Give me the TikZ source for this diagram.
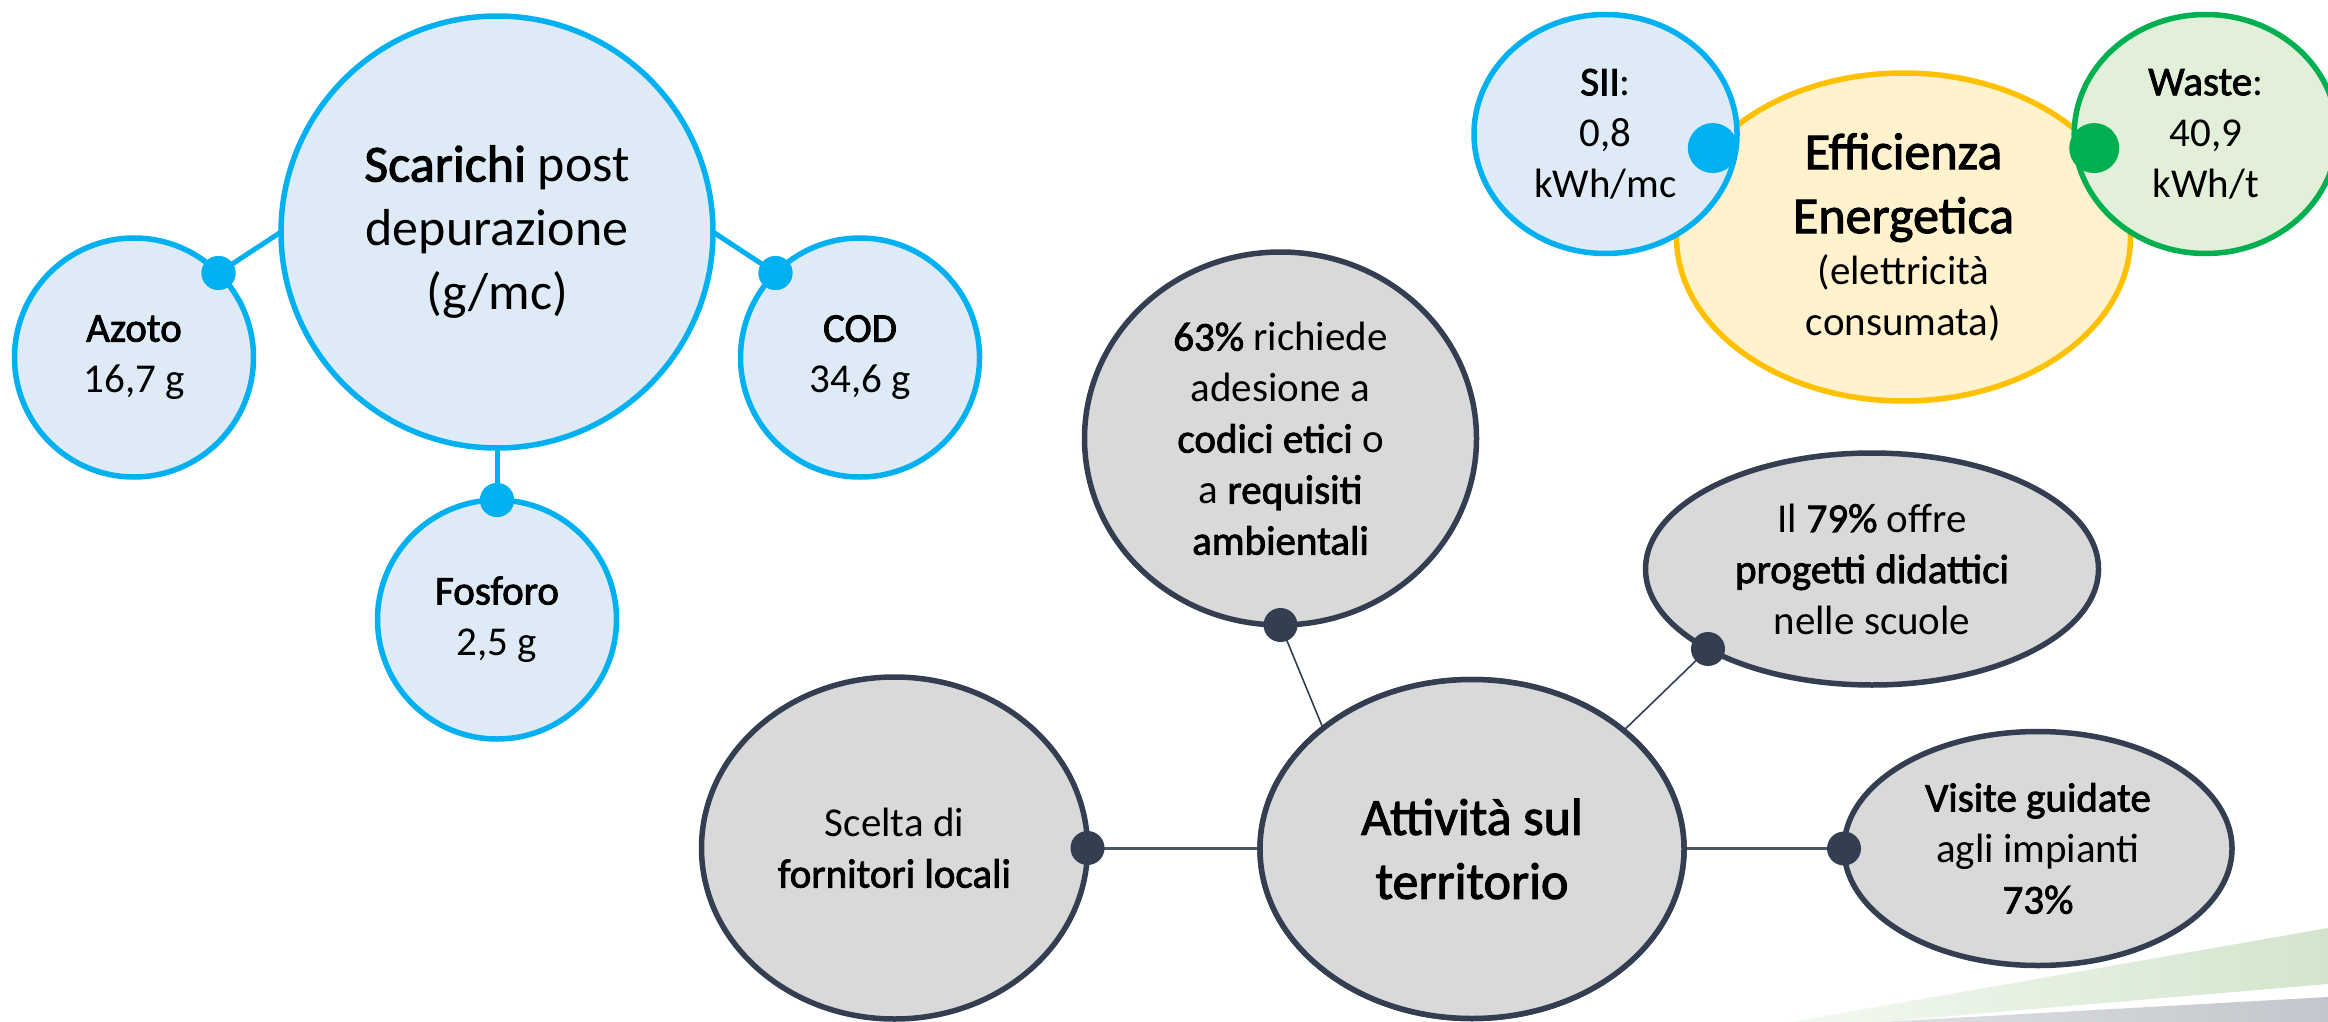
\documentclass[tikz,border=0pt]{standalone}
\usepackage{fontspec}
\setmainfont{Carlito}[BoldFont=Carlito, BoldFeatures={FakeBold=2}]
\usetikzlibrary{shapes.geometric}
\definecolor{cblue}{HTML}{00B0F0}
\definecolor{cbluefill}{HTML}{DEEBF7}
\definecolor{cyellow}{HTML}{FFC000}
\definecolor{cyellowfill}{HTML}{FFF2CC}
\definecolor{cgreen}{HTML}{00B050}
\definecolor{cgreenfill}{HTML}{E2F0D9}
\definecolor{cdark}{HTML}{333F50}
\definecolor{cgrayfill}{HTML}{D9D9D9}
\definecolor{cline}{HTML}{4A5566}
\definecolor{swgreen}{HTML}{D2E5CC}
\definecolor{swgreenl}{HTML}{F4F9F2}
\definecolor{swgray}{HTML}{C3C6CC}
\definecolor{swgrayl}{HTML}{DDDFE2}
\newcommand\fsN{\fontsize{41}{51}\selectfont}
\newcommand\fsB{\fontsize{52}{64}\selectfont}
\begin{document}
\begin{tikzpicture}[x=1pt,y=-1pt,
  bub/.style={ellipse, outer sep=0pt, inner sep=0pt, align=center, font=\fsN, line width=5.5pt},
  bluebub/.style={bub, draw=cblue, fill=cbluefill},
  graybub/.style={bub, draw=cdark, fill=cgrayfill},
  dotsmall/.style={circle, inner sep=0pt, outer sep=0pt, minimum size=34pt},
  dotbig/.style={circle, inner sep=0pt, outer sep=0pt, minimum size=50pt},
  blueconn/.style={draw=cblue, line width=5pt},
  thinconn/.style={draw=cdark, line width=1.6pt},
  midconn/.style={draw=cline, line width=3pt}
]
\useasboundingbox (0,0) rectangle (2328,1022);

% decorative swooshes
\shade[left color=swgreenl, right color=swgreen] (1790,1022) -- (2328,928) -- (2328,984) -- (1880,1022) -- cycle;
\shade[left color=swgrayl, right color=swgray] (1880,1022) -- (2328,997) -- (2328,1022) -- cycle;

% ---- Scarichi group ----
\node[bluebub, font=\fsB, minimum width=432pt, minimum height=432pt] (scar) at (497,232)
  {\textbf{Scarichi} post\\depurazione\\(g/mc)};
\node[bluebub, minimum width=239pt, minimum height=239pt] (azoto) at (134,357.5) {\textbf{Azoto}\\16,7 g};
\node[bluebub, minimum width=239pt, minimum height=239pt] (cod) at (860,357.5) {\textbf{COD}\\34,6 g};
\node[bluebub, minimum width=239pt, minimum height=239pt] (fosf) at (497,619.5) {\textbf{Fosforo}\\2,5 g};
\node[dotsmall, fill=cblue] (dAz) at (azoto.45) {};
\node[dotsmall, fill=cblue] (dCod) at (cod.135) {};
\node[dotsmall, fill=cblue] (dFos) at (fosf.north) {};
\draw[blueconn] (dAz.center) -- (scar.west);
\draw[blueconn] (dCod.center) -- (scar.east);
\draw[blueconn] (scar.south) -- (dFos.center);
\node[dotsmall, fill=cblue] at (dAz) {};
\node[dotsmall, fill=cblue] at (dCod) {};
\node[dotsmall, fill=cblue] at (dFos) {};

% ---- Efficienza group ----
\node[bub, draw=cyellow, fill=cyellowfill, font=\fsB, minimum width=454pt, minimum height=328pt] (eff) at (1903.5,237)
  {\textbf{Efficienza}\\\textbf{Energetica}\\[-13pt]{\fsN (elettricità}\\[-13pt]{\fsN consumata)}};
\node[bluebub, minimum width=263pt, minimum height=239pt] (sii) at (1605.5,134) {\textbf{SII}:\\0,8\\kWh/mc};
\node[bub, draw=cgreen, fill=cgreenfill, minimum width=263pt, minimum height=239pt] (waste) at (2205.7,134) {\textbf{Waste}:\\40,9\\kWh/t};
\node[dotbig, fill=cblue] (dSii) at (eff.155) {};
\node[dotbig, fill=cgreen] (dWaste) at (eff.25) {};

% ---- Attivita group ----
\node[graybub, minimum width=424pt, minimum height=339pt] (att) at (1472,849) {};
\node[graybub, minimum width=392pt, minimum height=373pt] (p63) at (1280.5,438.5) {};
\node[graybub, minimum width=453pt, minimum height=232pt] (p79) at (1872,569) {};
\node[graybub, minimum width=386pt, minimum height=342pt] (scelta) at (894.5,848) {};
\node[graybub, minimum width=388pt, minimum height=234pt] (visite) at (2038,848.5) {};

\draw[thinconn] (p63.south) -- (att.141.5);
\draw[thinconn] (p79.206) -- (att.38);
\draw[midconn] (scelta.east) -- (scelta.east -| att.west);
\draw[midconn] (visite.west -| att.east) -- (visite.west);

\node[graybub, minimum width=424pt, minimum height=339pt, font=\fsB] at (att) {\textbf{Attività sul}\\\textbf{territorio}};
\node[align=center, font=\fsN] at (p63) {\textbf{63\%} richiede\\adesione a\\\textbf{codici etici} o\\a \textbf{requisiti}\\\textbf{ambientali}};
\node[align=center, font=\fsN] at (p79) {Il \textbf{79\%} offre\\\textbf{progetti didattici}\\nelle scuole};
\node[align=center, font=\fsN] at (scelta) {Scelta di\\\textbf{fornitori locali}};
\node[align=center, font=\fsN] at (visite) {\textbf{Visite guidate}\\agli impianti\\\textbf{73\%}};

\node[dotsmall, fill=cdark] (d63) at (p63.south) {};
\node[dotsmall, fill=cdark] (d79) at (p79.206) {};
\node[dotsmall, fill=cdark] (dScelta) at (scelta.east) {};
\node[dotsmall, fill=cdark] (dVis) at (visite.west) {};
\end{tikzpicture}
\end{document}
